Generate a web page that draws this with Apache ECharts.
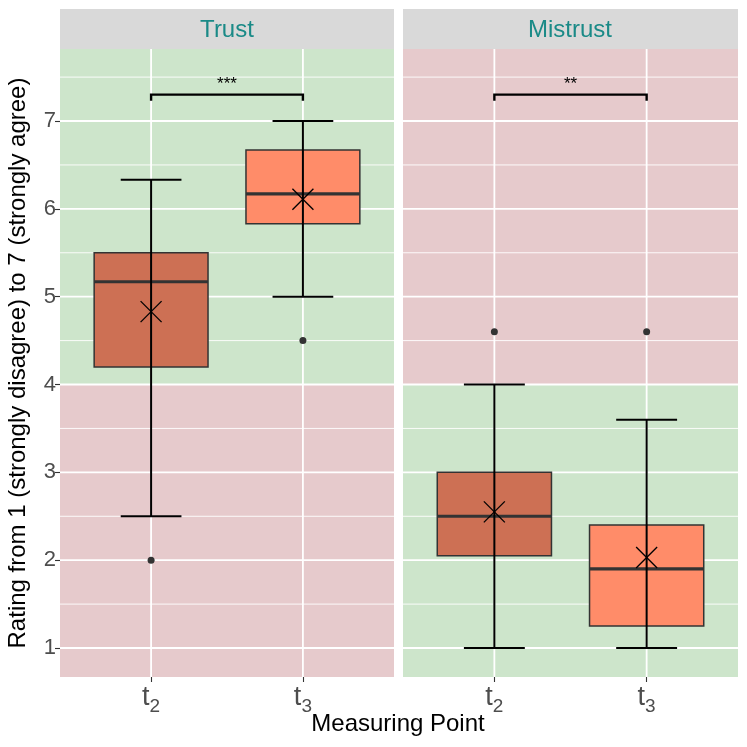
<!DOCTYPE html>
<html>
<head>
<meta charset="utf-8">
<script src="https://cdn.jsdelivr.net/npm/echarts@6/dist/echarts.min.js"></script>
<style>
  html, body { margin: 0; padding: 0; background: #fff; }
  #chart { width: 747px; height: 747px; }
</style>
</head>
<body>
<div id="chart"></div>
<script>
// measuring points, shown as t2 / t3
const categories = ['2', '3'];
const positions = [1, 2];

// Trust panel
const trustWhiskerLow = [2.5, 5.0];
const trustQ1 = [4.2, 5.83];
const trustMedian = [5.17, 6.17];
const trustQ3 = [5.5, 6.67];
const trustWhiskerHigh = [6.33, 7.0];
const trustMean = [4.83, 6.11];
const trustOutliers = [[1, 2.0], [2, 4.5]];

// Mistrust panel
const mistrustWhiskerLow = [1.0, 1.0];
const mistrustQ1 = [2.05, 1.25];
const mistrustMedian = [2.5, 1.9];
const mistrustQ3 = [3.0, 2.4];
const mistrustWhiskerHigh = [4.0, 3.6];
const mistrustMean = [2.55, 2.03];
const mistrustOutliers = [[1, 4.6], [2, 4.6]];

// significance brackets
const trustSignif = '***';
const mistrustSignif = '**';
const bracketValue = 7.3;

// axis ticks / ranges
const yTicks = [1, 2, 3, 4, 5, 6, 7];
const yMinorTicks = [1.5, 2.5, 3.5, 4.5, 5.5, 6.5, 7.5];
const Y_MIN = 0.67, Y_MAX = 7.82;
const X_MIN = 0.4, X_MAX = 2.6;
const bandSplit = 4;

const GREEN = '#CDE5CB';
const RED = '#E6CACC';
const boxFills = ['#CD7054', '#FF8C69'];
const BOX_WIDTH = 0.75;
const CAP_WIDTH = 0.4;

const chart = echarts.init(document.getElementById('chart'));

function buildPanel(i, p) {
  const ax = { xAxisIndex: i, yAxisIndex: i };
  const bands = [[Y_MIN, bandSplit], [bandSplit, Y_MAX]];
  return [
    {
      type: 'custom', ...ax, z: 1, silent: true,
      data: bands,
      renderItem: (params, api) => {
        const cs = params.coordSys;
        const top = api.coord([X_MIN, api.value(1)])[1];
        const bot = api.coord([X_MIN, api.value(0)])[1];
        return {
          type: 'rect',
          shape: { x: cs.x, y: top, width: cs.width, height: bot - top },
          style: { fill: p.bandColors[params.dataIndex] }
        };
      }
    },
    {
      type: 'custom', ...ax, z: 2, silent: true,
      data: yMinorTicks.filter((v) => v < Y_MAX).map((v) => [X_MIN, v]),
      renderItem: (params, api) => {
        const cs = params.coordSys;
        const y = api.coord([X_MIN, api.value(1)])[1];
        return { type: 'line', shape: { x1: cs.x, y1: y, x2: cs.x + cs.width, y2: y }, style: { stroke: '#fff', lineWidth: 0.9 } };
      }
    },
    {
      type: 'custom', ...ax, z: 2, silent: true,
      data: yTicks.map((v) => [X_MIN, v]),
      renderItem: (params, api) => {
        const cs = params.coordSys;
        const y = api.coord([X_MIN, api.value(1)])[1];
        return { type: 'line', shape: { x1: cs.x, y1: y, x2: cs.x + cs.width, y2: y }, style: { stroke: '#fff', lineWidth: 1.8 } };
      }
    },
    {
      type: 'custom', ...ax, z: 2, silent: true,
      data: positions.map((x) => [x, Y_MIN]),
      renderItem: (params, api) => {
        const cs = params.coordSys;
        const x = api.coord([api.value(0), Y_MIN])[0];
        return { type: 'line', shape: { x1: x, y1: cs.y, x2: x, y2: cs.y + cs.height }, style: { stroke: '#fff', lineWidth: 1.8 } };
      }
    },
    {
      // boxes
      type: 'custom', ...ax, z: 3, silent: true,
      data: positions.map((x, k) => [x, p.q1[k], p.median[k], p.q3[k]]),
      renderItem: (params, api) => {
        const x = api.value(0);
        const half = api.size([BOX_WIDTH, 0])[0] / 2;
        const top = api.coord([x, api.value(3)]);
        const bot = api.coord([x, api.value(1)]);
        const med = api.coord([x, api.value(2)]);
        return {
          type: 'group',
          children: [
            { type: 'rect', shape: { x: top[0] - half, y: top[1], width: half * 2, height: bot[1] - top[1] },
              style: { fill: boxFills[params.dataIndex], stroke: '#333333', lineWidth: 1.5 } },
            { type: 'line', shape: { x1: med[0] - half, y1: med[1], x2: med[0] + half, y2: med[1] },
              style: { stroke: '#333333', lineWidth: 3.2 } }
          ]
        };
      }
    },
    {
      // error bars
      type: 'custom', ...ax, z: 4, silent: true,
      data: positions.map((x, k) => [x, p.low[k], p.high[k]]),
      renderItem: (params, api) => {
        const x = api.value(0);
        const half = api.size([CAP_WIDTH, 0])[0] / 2;
        const lo = api.coord([x, api.value(1)]);
        const hi = api.coord([x, api.value(2)]);
        const st = { stroke: '#000', lineWidth: 2 };
        return {
          type: 'group',
          children: [
            { type: 'line', shape: { x1: lo[0], y1: lo[1], x2: hi[0], y2: hi[1] }, style: st },
            { type: 'line', shape: { x1: lo[0] - half, y1: lo[1], x2: lo[0] + half, y2: lo[1] }, style: st },
            { type: 'line', shape: { x1: hi[0] - half, y1: hi[1], x2: hi[0] + half, y2: hi[1] }, style: st }
          ]
        };
      }
    },
    {
      // means
      type: 'custom', ...ax, z: 5, silent: true,
      data: positions.map((x, k) => [x, p.mean[k]]),
      renderItem: (params, api) => {
        const c = api.coord([api.value(0), api.value(1)]);
        const r = 10.5;
        const st = { stroke: '#000', lineWidth: 1.3 };
        return {
          type: 'group',
          children: [
            { type: 'line', shape: { x1: c[0] - r, y1: c[1] - r, x2: c[0] + r, y2: c[1] + r }, style: st },
            { type: 'line', shape: { x1: c[0] - r, y1: c[1] + r, x2: c[0] + r, y2: c[1] - r }, style: st }
          ]
        };
      }
    },
    {
      type: 'scatter', ...ax, z: 5, silent: true,
      symbol: 'circle', symbolSize: 7,
      itemStyle: { color: '#333333', opacity: 1 },
      data: p.outliers
    },
    {
      // significance bracket
      type: 'custom', ...ax, z: 5, silent: true,
      data: [[positions[0], positions[1], bracketValue]],
      renderItem: (params, api) => {
        const x1 = api.value(0), x2 = api.value(1), v = api.value(2);
        const a = api.coord([x1, v - 0.07]);
        const b = api.coord([x1, v]);
        const c = api.coord([x2, v]);
        const d = api.coord([x2, v - 0.07]);
        const t = api.coord([(x1 + x2) / 2, v + 0.12]);
        return {
          type: 'group',
          children: [
            { type: 'polyline', shape: { points: [a, b, c, d] }, style: { stroke: '#000', lineWidth: 2.4, fill: null } },
            { type: 'text', x: t[0], y: t[1],
              style: { text: p.signif, fill: '#000', fontSize: 17, fontFamily: 'Liberation Sans', align: 'center', verticalAlign: 'middle' } }
          ]
        };
      }
    }
  ];
}

const trustPanel = {
  low: trustWhiskerLow, q1: trustQ1, median: trustMedian, q3: trustQ3, high: trustWhiskerHigh,
  mean: trustMean, outliers: trustOutliers, signif: trustSignif, bandColors: [RED, GREEN]
};
const mistrustPanel = {
  low: mistrustWhiskerLow, q1: mistrustQ1, median: mistrustMedian, q3: mistrustQ3, high: mistrustWhiskerHigh,
  mean: mistrustMean, outliers: mistrustOutliers, signif: mistrustSignif, bandColors: [GREEN, RED]
};

const xLabelRich = {
  t: { fontSize: 27, color: '#4D4D4D', fontFamily: 'Liberation Sans' },
  s: { fontSize: 19, color: '#4D4D4D', fontFamily: 'Liberation Sans', padding: [18, 0, 0, 0] }
};

function xAxisFor(i) {
  return {
    type: 'value', gridIndex: i, min: X_MIN, max: X_MAX,
    splitLine: { show: false },
    axisLine: { show: false },
    axisTick: { show: true, customValues: positions, length: 5, lineStyle: { color: '#333333', width: 1.1 } },
    axisLabel: {
      customValues: positions, margin: 2,
      formatter: (v) => '{t|t}{s|' + categories[Math.round(v) - 1] + '}',
      rich: xLabelRich
    }
  };
}

function yAxisFor(i) {
  return {
    type: 'value', gridIndex: i, min: Y_MIN, max: Y_MAX,
    splitLine: { show: false },
    axisLine: { show: false },
    axisTick: { show: i === 0, customValues: yTicks, length: 5, lineStyle: { color: '#333333', width: 1.1 } },
    axisLabel: {
      show: i === 0, customValues: yTicks, margin: 4,
      fontSize: 22, color: '#4D4D4D', fontFamily: 'Liberation Sans'
    }
  };
}

chart.setOption({
  animation: false,
  backgroundColor: '#fff',
  grid: [
    { left: 60, right: 353, top: 49, bottom: 70 },
    { left: 403, right: 9, top: 49, bottom: 70 }
  ],
  xAxis: [xAxisFor(0), xAxisFor(1)],
  yAxis: [yAxisFor(0), yAxisFor(1)],
  graphic: [
    { type: 'rect', shape: { x: 60, y: 9, width: 334, height: 40 }, style: { fill: '#D9D9D9' } },
    { type: 'rect', shape: { x: 403, y: 9, width: 335, height: 40 }, style: { fill: '#D9D9D9' } },
    { type: 'text', x: 227, y: 30, style: { text: 'Trust', fill: '#1A8A87', fontSize: 24, fontFamily: 'Liberation Sans', align: 'center', verticalAlign: 'middle' } },
    { type: 'text', x: 570, y: 30, style: { text: 'Mistrust', fill: '#1A8A87', fontSize: 24, fontFamily: 'Liberation Sans', align: 'center', verticalAlign: 'middle' } },
    { type: 'text', x: 398, y: 724, style: { text: 'Measuring Point', fill: '#000', fontSize: 24, fontFamily: 'Liberation Sans', align: 'center', verticalAlign: 'middle' } },
    { type: 'text', x: 18, y: 363, rotation: Math.PI / 2,
      style: { text: 'Rating from 1 (strongly disagree) to 7 (strongly agree)', fill: '#000', fontSize: 24, fontFamily: 'Liberation Sans', align: 'center', verticalAlign: 'middle' } }
  ],
  series: [...buildPanel(0, trustPanel), ...buildPanel(1, mistrustPanel)]
});
</script>
</body>
</html>
